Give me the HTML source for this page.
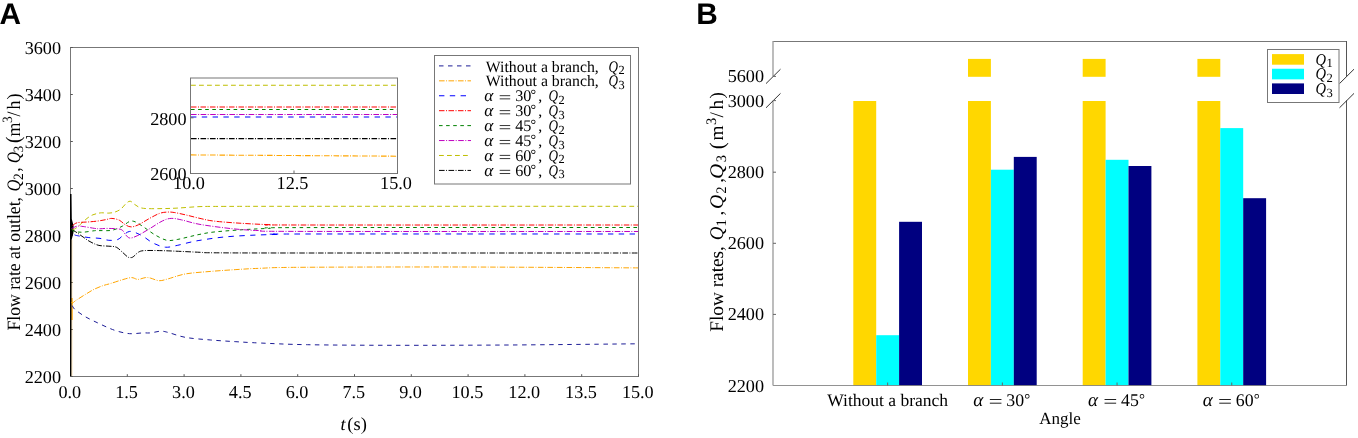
<!DOCTYPE html>
<html><head><meta charset="utf-8"><style>
html,body{margin:0;padding:0;background:#fff;width:1358px;height:438px;overflow:hidden}
svg{display:block;will-change:transform;text-rendering:geometricPrecision}
text{fill:#000}
</style></head><body>
<svg width="1358" height="438" viewBox="0 0 1358 438">
<text x="-0.6" y="24.1" font-family="Liberation Sans" font-weight="bold" font-size="29.8">A</text>
<text x="696.3" y="24.1" font-family="Liberation Sans" font-weight="bold" font-size="29.8">B</text>
<rect x="70.5" y="47.5" width="568.0" height="329.0" fill="none" stroke="#777" stroke-width="1"/>
<line x1="70.5" y1="376.50" x2="72.8" y2="376.50" stroke="#555" stroke-width="1"/>
<text x="61.00" y="382.50" font-family="Liberation Serif" font-size="18.2" text-anchor="end">2200</text>
<line x1="70.5" y1="329.50" x2="72.8" y2="329.50" stroke="#555" stroke-width="1"/>
<text x="61.00" y="335.50" font-family="Liberation Serif" font-size="18.2" text-anchor="end">2400</text>
<line x1="70.5" y1="282.50" x2="72.8" y2="282.50" stroke="#555" stroke-width="1"/>
<text x="61.00" y="288.50" font-family="Liberation Serif" font-size="18.2" text-anchor="end">2600</text>
<line x1="70.5" y1="235.50" x2="72.8" y2="235.50" stroke="#555" stroke-width="1"/>
<text x="61.00" y="241.50" font-family="Liberation Serif" font-size="18.2" text-anchor="end">2800</text>
<line x1="70.5" y1="188.50" x2="72.8" y2="188.50" stroke="#555" stroke-width="1"/>
<text x="61.00" y="194.50" font-family="Liberation Serif" font-size="18.2" text-anchor="end">3000</text>
<line x1="70.5" y1="141.50" x2="72.8" y2="141.50" stroke="#555" stroke-width="1"/>
<text x="61.00" y="147.50" font-family="Liberation Serif" font-size="18.2" text-anchor="end">3200</text>
<line x1="70.5" y1="94.50" x2="72.8" y2="94.50" stroke="#555" stroke-width="1"/>
<text x="61.00" y="100.50" font-family="Liberation Serif" font-size="18.2" text-anchor="end">3400</text>
<line x1="70.5" y1="47.50" x2="72.8" y2="47.50" stroke="#555" stroke-width="1"/>
<text x="61.00" y="53.50" font-family="Liberation Serif" font-size="18.2" text-anchor="end">3600</text>
<line x1="70.50" y1="376.5" x2="70.50" y2="374.2" stroke="#555" stroke-width="1"/>
<text x="69.80" y="397.70" font-family="Liberation Serif" font-size="18.2" text-anchor="middle">0.0</text>
<line x1="127.30" y1="376.5" x2="127.30" y2="374.2" stroke="#555" stroke-width="1"/>
<text x="126.60" y="397.70" font-family="Liberation Serif" font-size="18.2" text-anchor="middle">1.5</text>
<line x1="184.10" y1="376.5" x2="184.10" y2="374.2" stroke="#555" stroke-width="1"/>
<text x="183.40" y="397.70" font-family="Liberation Serif" font-size="18.2" text-anchor="middle">3.0</text>
<line x1="240.90" y1="376.5" x2="240.90" y2="374.2" stroke="#555" stroke-width="1"/>
<text x="240.20" y="397.70" font-family="Liberation Serif" font-size="18.2" text-anchor="middle">4.5</text>
<line x1="297.70" y1="376.5" x2="297.70" y2="374.2" stroke="#555" stroke-width="1"/>
<text x="297.00" y="397.70" font-family="Liberation Serif" font-size="18.2" text-anchor="middle">6.0</text>
<line x1="354.50" y1="376.5" x2="354.50" y2="374.2" stroke="#555" stroke-width="1"/>
<text x="353.80" y="397.70" font-family="Liberation Serif" font-size="18.2" text-anchor="middle">7.5</text>
<line x1="411.30" y1="376.5" x2="411.30" y2="374.2" stroke="#555" stroke-width="1"/>
<text x="410.60" y="397.70" font-family="Liberation Serif" font-size="18.2" text-anchor="middle">9.0</text>
<line x1="468.10" y1="376.5" x2="468.10" y2="374.2" stroke="#555" stroke-width="1"/>
<text x="467.40" y="397.70" font-family="Liberation Serif" font-size="18.2" text-anchor="middle">10.5</text>
<line x1="524.90" y1="376.5" x2="524.90" y2="374.2" stroke="#555" stroke-width="1"/>
<text x="524.20" y="397.70" font-family="Liberation Serif" font-size="18.2" text-anchor="middle">12.0</text>
<line x1="581.70" y1="376.5" x2="581.70" y2="374.2" stroke="#555" stroke-width="1"/>
<text x="581.00" y="397.70" font-family="Liberation Serif" font-size="18.2" text-anchor="middle">13.5</text>
<line x1="638.50" y1="376.5" x2="638.50" y2="374.2" stroke="#555" stroke-width="1"/>
<text x="637.80" y="397.70" font-family="Liberation Serif" font-size="18.2" text-anchor="middle">15.0</text>
<line x1="71.9" y1="240" x2="71.9" y2="376" stroke="#ffb52e" stroke-opacity="0.45" stroke-width="0.9"/>
<line x1="72.0" y1="298" x2="72.0" y2="320" stroke="#ffa500" stroke-width="1.3"/>
<path d="M70.0,194 L71.5,194 L71.8,219 L73.6,226 L73.4,233 L71.6,240 L71.4,376 L70.0,376 Z" fill="#000"/>
<path d="M72.20,305.60 C72.68,306.27 72.95,307.77 75.10,309.60 C77.25,311.43 81.33,314.38 85.10,316.60 C88.87,318.82 93.63,320.95 97.70,322.90 C101.77,324.85 106.15,326.90 109.50,328.30 C112.85,329.70 114.97,330.47 117.80,331.30 C120.63,332.13 123.98,332.90 126.50,333.30 C129.02,333.70 130.17,333.77 132.90,333.70 C135.63,333.63 139.97,333.03 142.90,332.90 C145.83,332.77 147.57,333.18 150.50,332.90 C153.43,332.62 157.58,331.28 160.50,331.20 C163.42,331.12 163.82,331.37 168.00,332.40 C172.18,333.43 178.47,336.13 185.60,337.40 C192.73,338.67 202.42,339.28 210.80,340.00 C219.18,340.72 227.70,341.20 235.90,341.70 C244.10,342.20 248.08,342.50 260.00,343.00 C271.92,343.50 285.13,344.32 307.40,344.70 C329.67,345.08 360.08,345.25 393.60,345.30 C427.12,345.35 467.77,345.25 508.50,345.00 C549.23,344.75 616.42,344.00 638.00,343.80" fill="none" stroke="#1c1c96" stroke-width="1" stroke-dasharray="4.5 4.5"/>
<path d="M71.60,302.00 C71.73,302.20 71.67,303.47 72.40,303.20 C73.13,302.93 73.88,301.83 76.00,300.40 C78.12,298.97 82.05,296.47 85.10,294.60 C88.15,292.73 91.25,290.72 94.30,289.20 C97.35,287.68 100.73,286.43 103.40,285.50 C106.07,284.57 107.07,284.58 110.30,283.60 C113.53,282.62 119.25,280.60 122.80,279.60 C126.35,278.60 129.08,277.63 131.60,277.60 C134.12,277.57 135.60,279.40 137.90,279.40 C140.20,279.40 143.30,277.82 145.40,277.60 C147.50,277.38 148.20,277.58 150.50,278.10 C152.80,278.62 156.28,280.57 159.20,280.70 C162.12,280.83 163.60,280.03 168.00,278.90 C172.40,277.77 178.47,275.15 185.60,273.90 C192.73,272.65 202.42,272.12 210.80,271.40 C219.18,270.68 227.70,270.12 235.90,269.60 C244.10,269.08 249.32,268.68 260.00,268.30 C270.68,267.92 266.67,267.52 300.00,267.30 C333.33,267.08 403.67,266.90 460.00,267.00 C516.33,267.10 608.33,267.75 638.00,267.90" fill="none" stroke="#ffa500" stroke-width="1" stroke-dasharray="5.6 1.5 0.9 1.5"/>
<path d="M72.50,229.50 C72.75,229.70 73.18,230.12 74.00,230.70 C74.82,231.28 75.88,231.95 77.40,233.00 C78.92,234.05 81.18,235.67 83.10,237.00 C85.02,238.33 86.98,239.85 88.90,241.00 C90.82,242.15 92.75,243.13 94.60,243.90 C96.45,244.67 97.62,245.22 100.00,245.60 C102.38,245.98 106.18,245.93 108.90,246.20 C111.62,246.47 114.07,246.22 116.30,247.20 C118.53,248.18 120.43,250.50 122.30,252.10 C124.17,253.70 126.15,255.88 127.50,256.80 C128.85,257.72 129.45,257.60 130.40,257.60 C131.35,257.60 131.83,257.72 133.20,256.80 C134.57,255.88 136.72,253.13 138.60,252.10 C140.48,251.07 141.05,250.85 144.50,250.60 C147.95,250.35 154.35,250.52 159.30,250.60 C164.25,250.68 167.42,250.82 174.20,251.10 C180.98,251.38 193.37,252.02 200.00,252.30 C206.63,252.58 197.33,252.68 214.00,252.80 C230.67,252.92 229.33,252.97 300.00,253.00 C370.67,253.03 581.67,253.00 638.00,253.00" fill="none" stroke="#000000" stroke-width="1" stroke-dasharray="5.6 1.5 0.9 1.5"/>
<path d="M72.50,229.50 C73.03,229.32 74.30,229.33 75.70,228.40 C77.10,227.47 79.37,225.27 80.90,223.90 C82.43,222.53 83.57,221.35 84.90,220.20 C86.23,219.05 87.57,217.90 88.90,217.00 C90.23,216.10 91.57,215.37 92.90,214.80 C94.23,214.23 95.47,213.93 96.90,213.60 C98.33,213.27 99.50,212.88 101.50,212.80 C103.50,212.72 106.68,213.22 108.90,213.10 C111.12,212.98 112.82,212.77 114.80,212.10 C116.78,211.43 118.93,210.52 120.80,209.10 C122.67,207.68 124.43,204.92 126.00,203.60 C127.57,202.28 128.72,201.03 130.20,201.20 C131.68,201.37 133.25,203.53 134.90,204.60 C136.55,205.67 138.00,206.93 140.10,207.60 C142.20,208.27 143.80,208.43 147.50,208.60 C151.20,208.77 157.35,208.68 162.30,208.60 C167.25,208.52 170.92,208.43 177.20,208.10 C183.48,207.77 192.35,206.88 200.00,206.60 C207.65,206.32 206.43,206.45 223.10,206.40 C239.77,206.35 230.85,206.32 300.00,206.30 C369.15,206.28 581.67,206.30 638.00,206.30" fill="none" stroke="#bfbf00" stroke-width="1" stroke-dasharray="4.8 3.2"/>
<path d="M74.50,234.80 C74.70,234.88 74.83,235.08 75.70,235.30 C76.57,235.52 77.50,235.72 79.70,236.10 C81.90,236.48 85.52,237.22 88.90,237.60 C92.28,237.98 96.67,237.95 100.00,238.40 C103.33,238.85 105.93,240.12 108.90,240.30 C111.87,240.48 115.33,240.42 117.80,239.50 C120.27,238.58 121.72,236.15 123.70,234.80 C125.68,233.45 127.47,231.65 129.70,231.40 C131.93,231.15 134.63,232.32 137.10,233.30 C139.57,234.28 141.78,235.65 144.50,237.30 C147.22,238.95 149.93,241.55 153.40,243.20 C156.87,244.85 161.33,246.83 165.30,247.20 C169.27,247.57 173.25,246.18 177.20,245.40 C181.15,244.62 185.20,243.35 189.00,242.50 C192.80,241.65 194.32,241.20 200.00,240.30 C205.68,239.40 214.68,237.93 223.10,237.10 C231.52,236.27 241.37,235.75 250.50,235.30 C259.63,234.85 269.65,234.62 277.90,234.40 C286.15,234.18 239.98,234.07 300.00,234.00 C360.02,233.93 581.67,234.00 638.00,234.00" fill="none" stroke="#0000ff" stroke-width="1" stroke-dasharray="5.4 5.4"/>
<path d="M71.50,229.50 C72.02,229.83 72.67,231.05 74.60,231.50 C76.53,231.95 79.77,232.33 83.10,232.20 C86.43,232.07 91.78,230.97 94.60,230.70 C97.42,230.43 97.12,230.67 100.00,230.60 C102.88,230.53 108.18,231.03 111.90,230.30 C115.62,229.57 119.33,227.68 122.30,226.20 C125.27,224.72 127.48,222.10 129.70,221.40 C131.92,220.70 133.13,220.97 135.60,222.00 C138.07,223.03 141.28,225.47 144.50,227.60 C147.72,229.73 151.18,232.68 154.90,234.80 C158.62,236.92 163.08,239.52 166.80,240.30 C170.52,241.08 173.50,240.08 177.20,239.50 C180.90,238.92 185.20,237.67 189.00,236.80 C192.80,235.93 195.83,235.10 200.00,234.30 C204.17,233.50 207.10,232.75 214.00,232.00 C220.90,231.25 232.27,230.40 241.40,229.80 C250.53,229.20 259.03,228.77 268.80,228.40 C278.57,228.03 238.47,227.75 300.00,227.60 C361.53,227.45 581.67,227.52 638.00,227.50" fill="none" stroke="#008000" stroke-width="1" stroke-dasharray="3.6 3.5"/>
<path d="M71.50,228.50 C71.73,228.40 71.92,228.30 72.90,227.90 C73.88,227.50 75.70,226.33 77.40,226.10 C79.10,225.87 80.23,226.12 83.10,226.50 C85.97,226.88 91.78,228.02 94.60,228.40 C97.42,228.78 97.87,228.80 100.00,228.80 C102.13,228.80 103.93,228.30 107.40,228.40 C110.87,228.50 117.83,228.42 120.80,229.40 C123.77,230.38 123.72,232.87 125.20,234.30 C126.68,235.73 127.72,237.75 129.70,238.00 C131.68,238.25 133.88,237.28 137.10,235.80 C140.32,234.32 144.80,231.57 149.00,229.10 C153.20,226.63 158.60,222.78 162.30,221.00 C166.00,219.22 167.98,218.58 171.20,218.40 C174.42,218.22 176.80,218.90 181.60,219.90 C186.40,220.90 191.57,222.93 200.00,224.40 C208.43,225.87 222.27,227.67 232.20,228.70 C242.13,229.73 248.30,230.15 259.60,230.60 C270.90,231.05 236.93,231.25 300.00,231.40 C363.07,231.55 581.67,231.48 638.00,231.50" fill="none" stroke="#c000c0" stroke-width="1" stroke-dasharray="5.6 1.5 1 1.5"/>
<path d="M72.50,225.50 C72.83,225.25 73.68,224.47 74.50,224.00 C75.32,223.53 75.97,223.00 77.40,222.70 C78.83,222.40 81.18,222.33 83.10,222.20 C85.02,222.07 86.42,222.10 88.90,221.90 C91.38,221.70 95.15,221.38 98.00,221.00 C100.85,220.62 103.68,220.03 106.00,219.60 C108.32,219.17 109.68,218.30 111.90,218.40 C114.12,218.50 117.08,219.15 119.30,220.20 C121.52,221.25 123.22,223.58 125.20,224.70 C127.18,225.82 128.97,226.90 131.20,226.90 C133.43,226.90 135.63,226.07 138.60,224.70 C141.57,223.33 145.55,220.57 149.00,218.70 C152.45,216.83 156.33,214.60 159.30,213.50 C162.27,212.40 164.32,212.27 166.80,212.10 C169.28,211.93 170.98,212.02 174.20,212.50 C177.42,212.98 181.80,214.02 186.10,215.00 C190.40,215.98 195.35,217.38 200.00,218.40 C204.65,219.42 207.10,220.28 214.00,221.10 C220.90,221.92 232.27,222.72 241.40,223.30 C250.53,223.88 259.03,224.32 268.80,224.60 C278.57,224.88 238.47,224.93 300.00,225.00 C361.53,225.07 581.67,225.00 638.00,225.00" fill="none" stroke="#ff0000" stroke-width="1" stroke-dasharray="5.5 1.5 1 1.5"/>
<rect x="190.5" y="78.0" width="207.0" height="95.5" fill="#fff" stroke="#777" stroke-width="1"/>
<line x1="191.0" y1="85.3" x2="397.0" y2="85.3" stroke="#bfbf00" stroke-width="1.1" stroke-dasharray="4.8 3.2"/>
<line x1="191.0" y1="107.0" x2="397.0" y2="107.0" stroke="#ff0000" stroke-width="1.1" stroke-dasharray="5.5 1.5 1 1.5"/>
<line x1="191.0" y1="109.5" x2="397.0" y2="109.5" stroke="#008000" stroke-width="1.1" stroke-dasharray="3.6 3.5"/>
<line x1="191.0" y1="114.5" x2="397.0" y2="114.5" stroke="#c000c0" stroke-width="1.1" stroke-dasharray="5.6 1.5 1 1.5"/>
<line x1="191.0" y1="117.0" x2="397.0" y2="117.0" stroke="#0000ff" stroke-width="1.1" stroke-dasharray="5.4 5.4"/>
<line x1="191.0" y1="138.6" x2="397.0" y2="138.6" stroke="#000000" stroke-width="1.1" stroke-dasharray="5.6 1.5 0.9 1.5"/>
<line x1="191.0" y1="154.9" x2="397.0" y2="156.2" stroke="#ffa500" stroke-width="1.1" stroke-dasharray="5.6 1.5 0.9 1.5"/>
<line x1="190.5" y1="117.8" x2="193.5" y2="117.8" stroke="#666"/>
<text x="186.50" y="125.30" font-family="Liberation Serif" font-size="18.2" text-anchor="end">2800</text>
<text x="186.50" y="179.60" font-family="Liberation Serif" font-size="18.2" text-anchor="end">2600</text>
<line x1="190.50" y1="173.5" x2="190.50" y2="170.5" stroke="#666"/>
<text x="189.00" y="189.30" font-family="Liberation Serif" font-size="18.2" text-anchor="middle">10.0</text>
<line x1="294.00" y1="173.5" x2="294.00" y2="170.5" stroke="#666"/>
<text x="292.50" y="189.30" font-family="Liberation Serif" font-size="18.2" text-anchor="middle">12.5</text>
<line x1="397.50" y1="173.5" x2="397.50" y2="170.5" stroke="#666"/>
<text x="396.00" y="189.30" font-family="Liberation Serif" font-size="18.2" text-anchor="middle">15.0</text>
<rect x="434.5" y="55.5" width="196" height="128.5" fill="#fff" stroke="#777" stroke-width="1"/>
<line x1="439" y1="65.90" x2="471" y2="65.90" stroke="#1c1c96" stroke-width="1" stroke-dasharray="4.5 4.5"/>
<text x="485.80" y="71.50" font-family="Liberation Serif" font-size="15.8">Without a branch,</text>
<text x="608.60" y="71.50" font-family="Liberation Serif" font-size="16.2" font-style="italic" textLength="9.5" lengthAdjust="spacingAndGlyphs">Q</text>
<text x="618.40" y="73.90" font-family="Liberation Serif" font-size="12.4">2</text>
<line x1="439" y1="80.83" x2="471" y2="80.83" stroke="#ffa500" stroke-width="1" stroke-dasharray="5.6 1.5 0.9 1.5"/>
<text x="485.80" y="86.43" font-family="Liberation Serif" font-size="15.8">Without a branch,</text>
<text x="608.60" y="86.43" font-family="Liberation Serif" font-size="16.2" font-style="italic" textLength="9.5" lengthAdjust="spacingAndGlyphs">Q</text>
<text x="618.40" y="88.83" font-family="Liberation Serif" font-size="12.4">3</text>
<line x1="439" y1="95.76" x2="471" y2="95.76" stroke="#0000ff" stroke-width="1" stroke-dasharray="5.4 5.4"/>
<text x="484.30" y="101.36" font-family="Liberation Serif" font-size="17.2" font-style="italic">α</text>
<line x1="499.70" y1="95.68" x2="510.20" y2="95.68" stroke="#222" stroke-width="0.9"/><line x1="499.70" y1="98.87" x2="510.20" y2="98.87" stroke="#222" stroke-width="0.9"/>
<text x="515.20" y="101.36" font-family="Liberation Serif" font-size="16.2">30</text>
<text x="530.60" y="99.36" font-family="Liberation Serif" font-size="14">°</text>
<text x="538.30" y="101.36" font-family="Liberation Serif" font-size="15.8">,</text>
<text x="548.60" y="101.36" font-family="Liberation Serif" font-size="16.2" font-style="italic" textLength="9.5" lengthAdjust="spacingAndGlyphs">Q</text>
<text x="558.40" y="103.76" font-family="Liberation Serif" font-size="12.4">2</text>
<line x1="439" y1="110.69" x2="471" y2="110.69" stroke="#ff0000" stroke-width="1" stroke-dasharray="5.5 1.5 1 1.5"/>
<text x="484.30" y="116.29" font-family="Liberation Serif" font-size="17.2" font-style="italic">α</text>
<line x1="499.70" y1="110.61" x2="510.20" y2="110.61" stroke="#222" stroke-width="0.9"/><line x1="499.70" y1="113.80" x2="510.20" y2="113.80" stroke="#222" stroke-width="0.9"/>
<text x="515.20" y="116.29" font-family="Liberation Serif" font-size="16.2">30</text>
<text x="530.60" y="114.29" font-family="Liberation Serif" font-size="14">°</text>
<text x="538.30" y="116.29" font-family="Liberation Serif" font-size="15.8">,</text>
<text x="548.60" y="116.29" font-family="Liberation Serif" font-size="16.2" font-style="italic" textLength="9.5" lengthAdjust="spacingAndGlyphs">Q</text>
<text x="558.40" y="118.69" font-family="Liberation Serif" font-size="12.4">3</text>
<line x1="439" y1="125.62" x2="471" y2="125.62" stroke="#008000" stroke-width="1" stroke-dasharray="3.6 3.5"/>
<text x="484.30" y="131.22" font-family="Liberation Serif" font-size="17.2" font-style="italic">α</text>
<line x1="499.70" y1="125.54" x2="510.20" y2="125.54" stroke="#222" stroke-width="0.9"/><line x1="499.70" y1="128.73" x2="510.20" y2="128.73" stroke="#222" stroke-width="0.9"/>
<text x="515.20" y="131.22" font-family="Liberation Serif" font-size="16.2">45</text>
<text x="530.60" y="129.22" font-family="Liberation Serif" font-size="14">°</text>
<text x="538.30" y="131.22" font-family="Liberation Serif" font-size="15.8">,</text>
<text x="548.60" y="131.22" font-family="Liberation Serif" font-size="16.2" font-style="italic" textLength="9.5" lengthAdjust="spacingAndGlyphs">Q</text>
<text x="558.40" y="133.62" font-family="Liberation Serif" font-size="12.4">2</text>
<line x1="439" y1="140.55" x2="471" y2="140.55" stroke="#c000c0" stroke-width="1" stroke-dasharray="5.6 1.5 1 1.5"/>
<text x="484.30" y="146.15" font-family="Liberation Serif" font-size="17.2" font-style="italic">α</text>
<line x1="499.70" y1="140.47" x2="510.20" y2="140.47" stroke="#222" stroke-width="0.9"/><line x1="499.70" y1="143.66" x2="510.20" y2="143.66" stroke="#222" stroke-width="0.9"/>
<text x="515.20" y="146.15" font-family="Liberation Serif" font-size="16.2">45</text>
<text x="530.60" y="144.15" font-family="Liberation Serif" font-size="14">°</text>
<text x="538.30" y="146.15" font-family="Liberation Serif" font-size="15.8">,</text>
<text x="548.60" y="146.15" font-family="Liberation Serif" font-size="16.2" font-style="italic" textLength="9.5" lengthAdjust="spacingAndGlyphs">Q</text>
<text x="558.40" y="148.55" font-family="Liberation Serif" font-size="12.4">3</text>
<line x1="439" y1="155.48" x2="471" y2="155.48" stroke="#bfbf00" stroke-width="1" stroke-dasharray="4.8 3.2"/>
<text x="484.30" y="161.08" font-family="Liberation Serif" font-size="17.2" font-style="italic">α</text>
<line x1="499.70" y1="155.40" x2="510.20" y2="155.40" stroke="#222" stroke-width="0.9"/><line x1="499.70" y1="158.59" x2="510.20" y2="158.59" stroke="#222" stroke-width="0.9"/>
<text x="515.20" y="161.08" font-family="Liberation Serif" font-size="16.2">60</text>
<text x="530.60" y="159.08" font-family="Liberation Serif" font-size="14">°</text>
<text x="538.30" y="161.08" font-family="Liberation Serif" font-size="15.8">,</text>
<text x="548.60" y="161.08" font-family="Liberation Serif" font-size="16.2" font-style="italic" textLength="9.5" lengthAdjust="spacingAndGlyphs">Q</text>
<text x="558.40" y="163.48" font-family="Liberation Serif" font-size="12.4">2</text>
<line x1="439" y1="170.41" x2="471" y2="170.41" stroke="#000000" stroke-width="1" stroke-dasharray="5.6 1.5 0.9 1.5"/>
<text x="484.30" y="176.01" font-family="Liberation Serif" font-size="17.2" font-style="italic">α</text>
<line x1="499.70" y1="170.33" x2="510.20" y2="170.33" stroke="#222" stroke-width="0.9"/><line x1="499.70" y1="173.52" x2="510.20" y2="173.52" stroke="#222" stroke-width="0.9"/>
<text x="515.20" y="176.01" font-family="Liberation Serif" font-size="16.2">60</text>
<text x="530.60" y="174.01" font-family="Liberation Serif" font-size="14">°</text>
<text x="538.30" y="176.01" font-family="Liberation Serif" font-size="15.8">,</text>
<text x="548.60" y="176.01" font-family="Liberation Serif" font-size="16.2" font-style="italic" textLength="9.5" lengthAdjust="spacingAndGlyphs">Q</text>
<text x="558.40" y="178.41" font-family="Liberation Serif" font-size="12.4">3</text>
<text x="340.50" y="430.00" font-family="Liberation Serif" font-size="18" font-style="italic">t</text>
<text x="347.30" y="430.00" font-family="Liberation Serif" font-size="18.5">(s)</text>
<g transform="translate(19.8,330.6) rotate(-90) scale(1,1.06)"><text x="0.00" y="0.00" font-family="Liberation Serif" font-size="17.7">Flow rate at outlet,</text><text x="139.00" y="0.00" font-family="Liberation Serif" font-size="17.9" font-style="italic" textLength="11.9" lengthAdjust="spacingAndGlyphs">Q</text><text x="150.60" y="2.70" font-family="Liberation Serif" font-size="13.4">2</text><text x="158.90" y="0.00" font-family="Liberation Serif" font-size="17.9">,</text><text x="167.60" y="0.00" font-family="Liberation Serif" font-size="17.9" font-style="italic" textLength="11.0" lengthAdjust="spacingAndGlyphs">Q</text><text x="178.00" y="2.70" font-family="Liberation Serif" font-size="13.4">3</text><text x="187.60" y="0.60" font-family="Liberation Serif" font-size="19.5">(</text><text x="194.20" y="0.00" font-family="Liberation Serif" font-size="17.9">m</text><text x="207.60" y="-7.00" font-family="Liberation Serif" font-size="13.4">3</text><text x="214.20" y="0.00" font-family="Liberation Serif" font-size="17.9">/</text><text x="221.00" y="0.00" font-family="Liberation Serif" font-size="17.9">h</text><text x="231.00" y="0.00" font-family="Liberation Serif" font-size="17.9">)</text></g>
<g transform="translate(723.0,331.8) rotate(-90) scale(1,1.0)"><text x="0.00" y="0.00" font-family="Liberation Serif" font-size="19.3">Flow rates,</text><text x="91.50" y="0.00" font-family="Liberation Serif" font-size="19.3" font-style="italic" textLength="13.6" lengthAdjust="spacingAndGlyphs">Q</text><text x="105.30" y="2.90" font-family="Liberation Serif" font-size="14.5">1</text><text x="116.40" y="0.00" font-family="Liberation Serif" font-size="19.3">,</text><text x="122.70" y="0.00" font-family="Liberation Serif" font-size="19.3" font-style="italic" textLength="14.2" lengthAdjust="spacingAndGlyphs">Q</text><text x="138.00" y="2.90" font-family="Liberation Serif" font-size="14.5">2</text><text x="149.00" y="0.00" font-family="Liberation Serif" font-size="19.3">,</text><text x="152.80" y="0.00" font-family="Liberation Serif" font-size="19.3" font-style="italic" textLength="15.2" lengthAdjust="spacingAndGlyphs">Q</text><text x="169.60" y="2.90" font-family="Liberation Serif" font-size="14.5">3</text><text x="182.60" y="0.60" font-family="Liberation Serif" font-size="21">(</text><text x="191.20" y="0.00" font-family="Liberation Serif" font-size="19.3">m</text><text x="206.80" y="-7.50" font-family="Liberation Serif" font-size="14.5">3</text><text x="214.20" y="0.00" font-family="Liberation Serif" font-size="19.3">/</text><text x="222.40" y="0.00" font-family="Liberation Serif" font-size="19.3">h</text><text x="233.30" y="0.00" font-family="Liberation Serif" font-size="19.3">)</text></g>
<rect x="853.30" y="101.0" width="22.9" height="284.5" fill="#ffd700"/>
<rect x="876.20" y="335.2" width="22.9" height="50.30000000000001" fill="#00ffff"/>
<rect x="899.10" y="221.8" width="22.9" height="163.7" fill="#000080"/>
<rect x="968.00" y="101.0" width="22.9" height="284.5" fill="#ffd700"/>
<rect x="968.00" y="58.9" width="22.9" height="17.9" fill="#ffd700"/>
<rect x="990.90" y="169.7" width="22.9" height="215.8" fill="#00ffff"/>
<rect x="1013.80" y="156.9" width="22.9" height="228.6" fill="#000080"/>
<rect x="1082.70" y="101.0" width="22.9" height="284.5" fill="#ffd700"/>
<rect x="1082.70" y="58.9" width="22.9" height="17.9" fill="#ffd700"/>
<rect x="1105.60" y="159.8" width="22.9" height="225.7" fill="#00ffff"/>
<rect x="1128.50" y="166.0" width="22.9" height="219.5" fill="#000080"/>
<rect x="1197.40" y="101.0" width="22.9" height="284.5" fill="#ffd700"/>
<rect x="1197.40" y="58.9" width="22.9" height="17.9" fill="#ffd700"/>
<rect x="1220.30" y="128.1" width="22.9" height="257.4" fill="#00ffff"/>
<rect x="1243.20" y="198.2" width="22.9" height="187.3" fill="#000080"/>
<line x1="773.0" y1="41.5" x2="1346.5" y2="41.5" stroke="#777"/>
<line x1="773.0" y1="385.5" x2="1346.5" y2="385.5" stroke="#777" stroke-opacity="0.8"/>
<line x1="773.0" y1="41" x2="773.0" y2="76.4" stroke="#999" stroke-width="1.3"/>
<line x1="773.0" y1="100.4" x2="773.0" y2="385.5" stroke="#999" stroke-width="1.3"/>
<line x1="766.0" y1="83.60000000000001" x2="780.5" y2="69.2" stroke="#333" stroke-width="1"/>
<line x1="766.0" y1="107.8" x2="780.5" y2="93.39999999999999" stroke="#333" stroke-width="1"/>
<line x1="1346.5" y1="41" x2="1346.5" y2="76.4" stroke="#555" stroke-width="1"/>
<line x1="1346.5" y1="100.4" x2="1346.5" y2="385.5" stroke="#555" stroke-width="1"/>
<line x1="1339.5" y1="83.60000000000001" x2="1354.0" y2="69.2" stroke="#333" stroke-width="1"/>
<line x1="1339.5" y1="107.8" x2="1354.0" y2="93.39999999999999" stroke="#333" stroke-width="1"/>
<text x="764.00" y="391.50" font-family="Liberation Serif" font-size="18.2" text-anchor="end">2200</text>
<line x1="773.0" y1="314.40" x2="776.0" y2="314.40" stroke="#666"/>
<text x="764.00" y="320.40" font-family="Liberation Serif" font-size="18.2" text-anchor="end">2400</text>
<line x1="773.0" y1="243.30" x2="776.0" y2="243.30" stroke="#666"/>
<text x="764.00" y="249.30" font-family="Liberation Serif" font-size="18.2" text-anchor="end">2600</text>
<line x1="773.0" y1="172.20" x2="776.0" y2="172.20" stroke="#666"/>
<text x="764.00" y="178.20" font-family="Liberation Serif" font-size="18.2" text-anchor="end">2800</text>
<line x1="773.0" y1="100.60" x2="776.0" y2="100.60" stroke="#666"/>
<text x="764.00" y="106.60" font-family="Liberation Serif" font-size="18.2" text-anchor="end">3000</text>
<line x1="773.0" y1="76.40" x2="776.0" y2="76.40" stroke="#666"/>
<text x="764.00" y="82.40" font-family="Liberation Serif" font-size="18.2" text-anchor="end">5600</text>
<line x1="887.65" y1="385.5" x2="887.65" y2="382.5" stroke="#666"/>
<text x="887.65" y="406.30" font-family="Liberation Serif" font-size="17.5" text-anchor="middle">Without a branch</text>
<line x1="1002.35" y1="385.5" x2="1002.35" y2="382.5" stroke="#666"/>
<text x="973.35" y="406.10" font-family="Liberation Serif" font-size="19.00" font-style="italic">α</text><line x1="989.85" y1="399.50" x2="1001.45" y2="399.50" stroke="#222" stroke-width="1.0"/><line x1="989.85" y1="403.20" x2="1001.45" y2="403.20" stroke="#222" stroke-width="1.0"/><text x="1006.35" y="406.10" font-family="Liberation Serif" font-size="17.80">30</text><text x="1024.35" y="403.90" font-family="Liberation Serif" font-size="15.00">°</text>
<line x1="1117.05" y1="385.5" x2="1117.05" y2="382.5" stroke="#666"/>
<text x="1088.05" y="406.10" font-family="Liberation Serif" font-size="19.00" font-style="italic">α</text><line x1="1104.55" y1="399.50" x2="1116.15" y2="399.50" stroke="#222" stroke-width="1.0"/><line x1="1104.55" y1="403.20" x2="1116.15" y2="403.20" stroke="#222" stroke-width="1.0"/><text x="1121.05" y="406.10" font-family="Liberation Serif" font-size="17.80">45</text><text x="1139.05" y="403.90" font-family="Liberation Serif" font-size="15.00">°</text>
<line x1="1231.75" y1="385.5" x2="1231.75" y2="382.5" stroke="#666"/>
<text x="1202.75" y="406.10" font-family="Liberation Serif" font-size="19.00" font-style="italic">α</text><line x1="1219.25" y1="399.50" x2="1230.85" y2="399.50" stroke="#222" stroke-width="1.0"/><line x1="1219.25" y1="403.20" x2="1230.85" y2="403.20" stroke="#222" stroke-width="1.0"/><text x="1235.75" y="406.10" font-family="Liberation Serif" font-size="17.80">60</text><text x="1253.75" y="403.90" font-family="Liberation Serif" font-size="15.00">°</text>
<text x="1060.00" y="423.70" font-family="Liberation Serif" font-size="17" text-anchor="middle">Angle</text>
<rect x="1267.5" y="49.5" width="71.5" height="53" fill="#fff" stroke="#777"/>
<rect x="1272" y="54.10" width="32" height="10.6" fill="#ffd700"/>
<text x="1315.5" y="64.60" font-family="Liberation Serif" font-size="16.5" font-style="italic" textLength="10.5" lengthAdjust="spacingAndGlyphs">Q</text>
<text x="1326.40" y="67.30" font-family="Liberation Serif" font-size="12.6">1</text>
<rect x="1272" y="68.75" width="32" height="10.6" fill="#00ffff"/>
<text x="1315.5" y="79.25" font-family="Liberation Serif" font-size="16.5" font-style="italic" textLength="10.5" lengthAdjust="spacingAndGlyphs">Q</text>
<text x="1326.40" y="81.95" font-family="Liberation Serif" font-size="12.6">2</text>
<rect x="1272" y="83.40" width="32" height="10.6" fill="#000080"/>
<text x="1315.5" y="93.90" font-family="Liberation Serif" font-size="16.5" font-style="italic" textLength="10.5" lengthAdjust="spacingAndGlyphs">Q</text>
<text x="1326.40" y="96.60" font-family="Liberation Serif" font-size="12.6">3</text>
</svg>
</body></html>
